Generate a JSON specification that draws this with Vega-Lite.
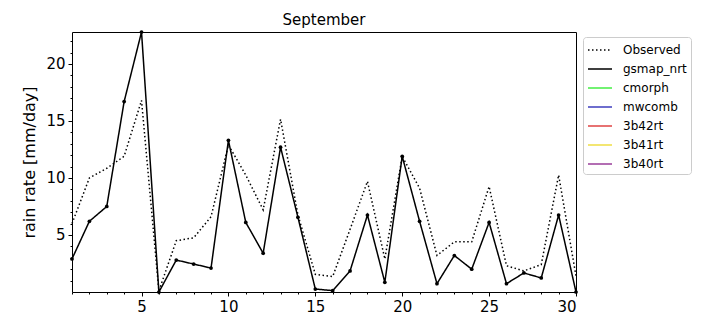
{
  "$schema": "https://vega.github.io/schema/vega-lite/v6.json",
  "width": 504,
  "height": 260,
  "autosize": {"type": "none"},
  "padding": {"left": 72, "top": 32, "right": 144, "bottom": 32},
  "background": "white",
  "config": {
    "font": "DejaVu Sans",
    "view": {"stroke": "black", "strokeWidth": 1},
    "axis": {"domainColor": "black", "tickColor": "black", "labelColor": "black", "titleColor": "black", "grid": false, "labelFont": "DejaVu Sans", "titleFont": "DejaVu Sans", "titleFontWeight": "normal"}
  },
  "title": {"text": "September", "fontSize": 15, "fontWeight": "normal", "font": "DejaVu Sans", "color": "black", "offset": 1},
  "data": {"values": [
    {"day": 1, "series": "Observed", "rain": 6.0},
    {"day": 2, "series": "Observed", "rain": 10.0},
    {"day": 3, "series": "Observed", "rain": 10.85},
    {"day": 4, "series": "Observed", "rain": 11.9},
    {"day": 5, "series": "Observed", "rain": 16.8},
    {"day": 6, "series": "Observed", "rain": 0.1},
    {"day": 7, "series": "Observed", "rain": 4.5},
    {"day": 8, "series": "Observed", "rain": 4.75},
    {"day": 9, "series": "Observed", "rain": 6.6},
    {"day": 10, "series": "Observed", "rain": 12.9},
    {"day": 11, "series": "Observed", "rain": 10.25},
    {"day": 12, "series": "Observed", "rain": 7.2},
    {"day": 13, "series": "Observed", "rain": 15.15},
    {"day": 14, "series": "Observed", "rain": 6.75},
    {"day": 15, "series": "Observed", "rain": 1.55},
    {"day": 16, "series": "Observed", "rain": 1.35},
    {"day": 17, "series": "Observed", "rain": 5.5},
    {"day": 18, "series": "Observed", "rain": 9.7},
    {"day": 19, "series": "Observed", "rain": 2.9},
    {"day": 20, "series": "Observed", "rain": 11.9},
    {"day": 21, "series": "Observed", "rain": 9.1},
    {"day": 22, "series": "Observed", "rain": 3.2},
    {"day": 23, "series": "Observed", "rain": 4.4},
    {"day": 24, "series": "Observed", "rain": 4.4},
    {"day": 25, "series": "Observed", "rain": 9.25},
    {"day": 26, "series": "Observed", "rain": 2.3},
    {"day": 27, "series": "Observed", "rain": 1.85},
    {"day": 28, "series": "Observed", "rain": 2.4},
    {"day": 29, "series": "Observed", "rain": 10.25},
    {"day": 30, "series": "Observed", "rain": 1.4},
    {"day": 1, "series": "gsmap_nrt", "rain": 2.9},
    {"day": 2, "series": "gsmap_nrt", "rain": 6.2},
    {"day": 3, "series": "gsmap_nrt", "rain": 7.5},
    {"day": 4, "series": "gsmap_nrt", "rain": 16.7},
    {"day": 5, "series": "gsmap_nrt", "rain": 22.8},
    {"day": 6, "series": "gsmap_nrt", "rain": 0.0},
    {"day": 7, "series": "gsmap_nrt", "rain": 2.8},
    {"day": 8, "series": "gsmap_nrt", "rain": 2.45},
    {"day": 9, "series": "gsmap_nrt", "rain": 2.1},
    {"day": 10, "series": "gsmap_nrt", "rain": 13.3},
    {"day": 11, "series": "gsmap_nrt", "rain": 6.1},
    {"day": 12, "series": "gsmap_nrt", "rain": 3.4},
    {"day": 13, "series": "gsmap_nrt", "rain": 12.7},
    {"day": 14, "series": "gsmap_nrt", "rain": 6.55},
    {"day": 15, "series": "gsmap_nrt", "rain": 0.26},
    {"day": 16, "series": "gsmap_nrt", "rain": 0.12},
    {"day": 17, "series": "gsmap_nrt", "rain": 1.85},
    {"day": 18, "series": "gsmap_nrt", "rain": 6.75},
    {"day": 19, "series": "gsmap_nrt", "rain": 0.85},
    {"day": 20, "series": "gsmap_nrt", "rain": 11.9},
    {"day": 21, "series": "gsmap_nrt", "rain": 6.2},
    {"day": 22, "series": "gsmap_nrt", "rain": 0.73},
    {"day": 23, "series": "gsmap_nrt", "rain": 3.2},
    {"day": 24, "series": "gsmap_nrt", "rain": 2.0},
    {"day": 25, "series": "gsmap_nrt", "rain": 6.1},
    {"day": 26, "series": "gsmap_nrt", "rain": 0.73},
    {"day": 27, "series": "gsmap_nrt", "rain": 1.67},
    {"day": 28, "series": "gsmap_nrt", "rain": 1.23},
    {"day": 29, "series": "gsmap_nrt", "rain": 6.75},
    {"day": 30, "series": "gsmap_nrt", "rain": 0.0}
  ]},
  "layer": [
    {
      "mark": {"type": "line", "strokeWidth": 1.5},
      "encoding": {
        "x": {"field": "day", "type": "quantitative", "scale": {"domain": [1, 30], "nice": false, "zero": false},
              "axis": {"values": [5, 10, 15, 20, 25, 30], "title": null, "labelFontSize": 15, "tickSize": 4, "labelPadding": 3, "domain": false}},
        "y": {"field": "rain", "type": "quantitative", "scale": {"domain": [0, 22.8], "nice": false},
              "axis": {"values": [5, 10, 15, 20], "title": "rain rate [mm/day]", "titleFontSize": 16, "labelFontSize": 15, "tickSize": 4, "labelPadding": 3, "titlePadding": 8, "domain": false}},
        "color": {"field": "series", "type": "nominal",
                  "scale": {"domain": ["Observed", "gsmap_nrt", "cmorph", "mwcomb", "3b42rt", "3b41rt", "3b40rt"],
                            "range": ["black", "black", "#44ee44", "#3f3fbf", "#e04444", "#f0de44", "#9b3f9b"]},
                  "legend": {"title": null, "orient": "none", "legendX": 511, "legendY": 5, "symbolType": "M-1,0H2", "symbolSize": 256, "symbolStrokeWidth": 1.5, "labelFontSize": 12, "labelFont": "DejaVu Sans", "labelColor": "black", "rowPadding": 4, "labelOffset": 18, "padding": 4, "strokeColor": "#cccccc", "cornerRadius": 3, "fillColor": "white"}},
        "strokeDash": {"field": "series", "type": "nominal",
                  "scale": {"domain": ["Observed", "gsmap_nrt", "cmorph", "mwcomb", "3b42rt", "3b41rt", "3b40rt"],
                            "range": [[1.5, 2.5], [1, 0], [1, 0], [1, 0], [1, 0], [1, 0], [1, 0]]},
                  "legend": {"title": null, "orient": "none", "legendX": 511, "legendY": 5, "symbolType": "M-1,0H2", "symbolSize": 256, "symbolStrokeWidth": 1.5, "labelFontSize": 12, "labelFont": "DejaVu Sans", "labelColor": "black", "rowPadding": 4, "labelOffset": 18, "padding": 4, "strokeColor": "#cccccc", "cornerRadius": 3, "fillColor": "white"}}
      }
    },
    {
      "transform": [{"filter": "datum.series === 'gsmap_nrt'"}],
      "mark": {"type": "point", "filled": true, "color": "black", "size": 14, "opacity": 1},
      "encoding": {
        "x": {"field": "day", "type": "quantitative",
              "axis": {"values": [1,2,3,4,6,7,8,9,11,12,13,14,16,17,18,19,21,22,23,24,26,27,28,29], "labels": false, "title": null, "tickSize": 2, "domain": false, "orient": "bottom"}},
        "y": {"field": "rain", "type": "quantitative",
              "axis": {"values": [1,2,3,4,6,7,8,9,11,12,13,14,16,17,18,19,21,22], "labels": false, "title": null, "tickSize": 2, "domain": false, "orient": "left"}}
      }
    }
  ],
  "resolve": {"axis": {"x": "independent", "y": "independent"}}
}
